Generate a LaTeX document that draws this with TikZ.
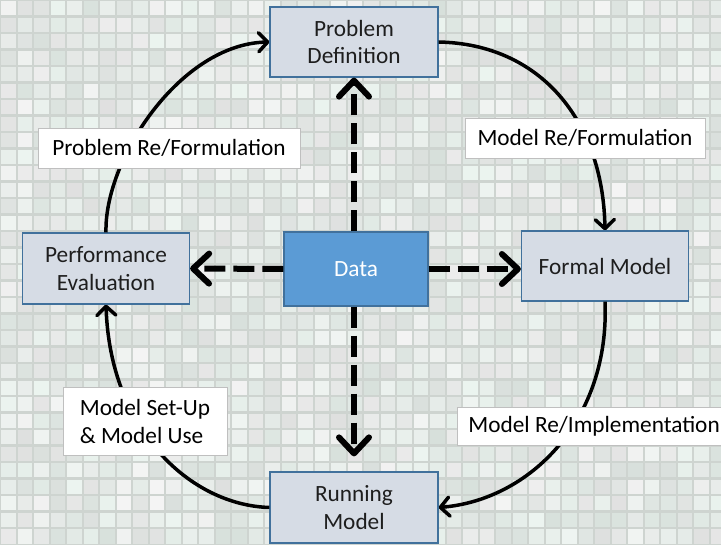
\documentclass[tikz,border=0pt]{standalone}
\usepackage{fontspec}
\setmainfont{Carlito}
\usetikzlibrary{arrows.meta}
\definecolor{boxfill}{HTML}{D6DCE5}
\definecolor{boxline}{HTML}{41719C}
\definecolor{datafill}{HTML}{5B9BD5}
\definecolor{grout}{HTML}{CED4D0}
\definecolor{txt}{HTML}{1E1E1E}
\definecolor{lblline}{HTML}{BFBFBF}
\tikzset{
  stage/.style={draw=boxline, line width=1.2pt, fill=boxfill, minimum width=168pt, minimum height=70pt,
    align=center, text=txt, font=\fontsize{23.3}{27.5}\selectfont, inner sep=0pt},
  databox/.style={draw=boxline, line width=1.2pt, fill=datafill, minimum width=144pt, minimum height=74pt,
    text=white, font=\fontsize{23.3}{27.5}\selectfont, inner sep=0pt},
  lbl/.style={draw=lblline, line width=0.8pt, fill=white, text=black, font=\fontsize{23.3}{28}\selectfont,
    inner sep=0pt, minimum height=40pt},
  dataarrow/.style={line width=6pt, dash pattern=on 21pt off 8pt,
    -{Straight Barb[length=16pt,width=30pt,line cap=round,line join=round]}},
  cyc/.style={line width=3.5pt, -{Straight Barb[length=9pt,width=19pt,line cap=round,line join=round]}},
}
\begin{document}
\begin{tikzpicture}[x=1pt,y=-1pt]
\useasboundingbox (0,0) rectangle (721,545);
\clip (0,0) rectangle (721,545);
% mosaic background
\fill[grout] (0,0) rectangle (721,545);
\pgfmathsetseed{17}
\foreach \i in {0,...,43}{
  \foreach \j in {0,...,33}{
    \pgfmathtruncatemacro\L{random(224,244)}
    \pgfmathtruncatemacro\t{random(0,9)}
    \pgfmathtruncatemacro\r{\L-\t}
    \pgfmathtruncatemacro\b{\L-\t/2}
    \fill[fill={rgb,255:red,\r;green,\L;blue,\b}] (\i*16.5+1.2,\j*16.5+1.2) rectangle ++(14.3,14.3);
  }
}
% stages
\node[stage] (pd) at (354,42) {Problem\\Definition};
\node[stage, minimum width=167pt] (fm) at (605,266) {Formal Model};
\node[stage, minimum width=167pt, minimum height=71pt] (pe) at (106,268.5) {Performance\\Evaluation};
\node[stage, minimum height=71pt] (rm) at (354,507.5) {Running\\Model};
\node[databox] (data) at (356,269) {Data};
% data arrows
\draw[dataarrow] (data.north -| pd.south) -- (pd.south);
\draw[dataarrow, shorten >=15pt] (data.south -| rm.north) -- (rm.north);
\draw[dataarrow] (data.west) -- (pe.east);
\draw[dataarrow] (data.east) -- (fm.west |- data.east);
% cycle
\draw[cyc] (pe.north) .. controls (104,160) and (180,44) .. (pd.west);
\draw[cyc] (pd.east) .. controls (540,44) and (603,120) .. (fm.north);
\draw[cyc] (fm.south) .. controls (610,420) and (530,500) .. (rm.east);
\draw[cyc] (rm.west) .. controls (190,505) and (110,430) .. (pe.south);
% labels
\node[lbl, minimum width=262pt] (l1) at (169,148) {Problem Re/Formulation};
\node[lbl, minimum width=240pt] (l2) at (585,138) {Model Re/Formulation};
\node[lbl, minimum width=164pt, minimum height=68pt, align=left] (l3) at (145,421) {Model Set-Up\\\& Model Use};
\node[lbl, minimum height=38pt, anchor=west, inner xsep=11pt] (l4) at (457,426) {\makebox[260pt][l]{Model Re/Implementation}};
\end{tikzpicture}
\end{document}
